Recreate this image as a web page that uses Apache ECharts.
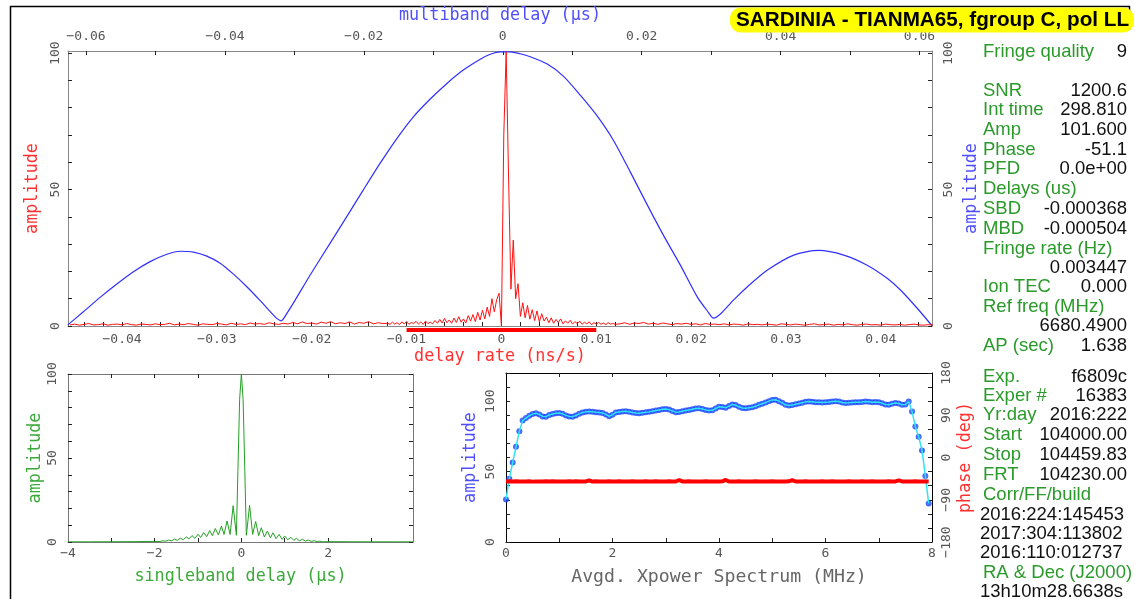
<!DOCTYPE html>
<html><head><meta charset="utf-8">
<script src="https://cdn.jsdelivr.net/npm/echarts@6/dist/echarts.min.js"></script>
<style>html,body{margin:0;padding:0;background:#fff;overflow:hidden}#c{width:1135px;height:599px}</style>
</head><body><div id="c"></div>
<script>
// ---------------- DATA ----------------
const titleText = 'SARDINIA - TIANMA65, fgroup C, pol LL';

// tick labels
const rateTickLabels = [-0.04,-0.03,-0.02,-0.01,0,0.01,0.02,0.03,0.04];
const mbdTickLabels = [-0.06,-0.04,-0.02,0,0.02,0.04,0.06];
const ampTickLabels = [0,50,100];
const sbdTickLabels = [-4,-2,0,2];
const freqTickLabels = [0,2,4,6,8];
const phaseTickLabels = [-180,-90,0,90,180];

// delay-rate amplitude (red), three sampled segments
const rateOuterLStart = -0.0455, rateOuterStep = 0.0005;
const rateOuterLAmp = [0.4,0.7,0.3,0.6,0.9,0.4,0.5,0.8,0.3,0.6,
 0.7,0.4,0.9,0.5,0.3,0.7,0.6,0.4,0.8,0.5,
 0.6,1.0,0.4,0.7,0.5,0.9,0.6,0.3,0.8,0.6,
 0.5,0.9,0.7,0.4,1.0,0.6,0.8,0.5,1.1,0.7,
 0.9,0.6,1.2,0.8,0.6,1.0,0.7,1.3,0.8,1.5,
 0.9,1.1,0.7,1.4,1.0,1.6,0.8,1.2,0.9,1.5,
 0.7,1.3,1.0,1.6,0.8,1.2,0.9];
const rateCenterStart = -0.012, rateCenterStep = 0.00025;
const rateCenterAmp = [1.0,0.6,1.4,0.7,1.2,0.5,1.5,0.8,1.6,0.6,
 1.3,0.9,1.7,0.7,1.5,0.6,1.8,0.9,1.4,0.8,
 2.0,1.0,2.4,1.1,2.8,1.2,2.2,1.0,2.9,1.3,
 3.4,1.4,2.6,1.1,3.8,1.8,4.2,1.6,5.0,2.2,
 5.8,2.6,6.9,3.5,10.0,5.2,9.6,12.0,0.0,70,
 100.5,55,13.5,31.5,10,15.5,3.5,8.5,3.0,7.5,
 2.5,6.0,2.0,5.5,1.5,4.5,1.8,3.2,1.2,3.0,
 1.0,2.4,1.3,2.6,0.8,1.9,1.0,2.1,0.7,1.6,
 0.9,1.8,0.6,1.4,0.8,1.5,0.5,1.2,0.7,1.3,
 0.6,1.1,0.5,1.2,0.7,0.9,0.6];
const rateOuterRStart = 0.0125;
const rateOuterRAmp = [0.8,1.2,0.6,1.1,0.9,1.3,0.7,1.0,0.6,1.1,
 0.8,0.5,0.9,0.7,1.0,0.6,0.8,0.4,0.9,0.6,
 0.7,0.5,0.8,0.4,0.7,0.6,0.3,0.8,0.5,0.6,
 0.4,0.7,0.5,0.3,0.8,0.6,0.4,0.7,0.5,0.3,
 0.6,0.8,0.4,0.5,0.7,0.3,0.6,0.4,0.8,0.5,
 0.3,0.6,0.7,0.4,0.5,0.3,0.7,0.5,0.4,0.6,
 0.3,0.5,0.7,0.4,0.3,0.5,0.4];
const rateWindow = [-0.01, 0.01];

// multiband delay amplitude (blue)
const mbdX = [-0.06263,-0.06039,-0.05798,-0.05557,-0.05318,-0.05078,-0.04837,-0.04646,-0.04454,-0.04261,
 -0.04069,-0.03878,-0.03685,-0.03493,-0.03302,-0.03249,-0.03191,-0.03104,-0.02989,-0.02773,
 -0.02485,-0.02197,-0.02010,-0.01765,-0.01520,-0.01290,-0.01044,-0.00800,-0.00569,-0.00324,
 -0.00180,-0.00036,0.00108,0.00252,0.00396,0.00641,0.00872,0.01116,0.01361,0.01592,
 0.01837,0.02082,0.02312,0.02557,0.02802,0.02946,0.03033,0.03134,0.03321,0.03523,
 0.03811,0.04189,0.04549,0.04909,0.05246,0.05534,0.05726,0.05967,0.06183];
const mbdAmp = [0.4,5.2,10.5,15.4,19.9,23.6,26.3,27.4,27.1,25.6,
 23.0,19.0,14.4,9.3,4.0,2.7,1.9,4.8,9.5,18.7,
 30.4,42.1,49.8,59.7,68.9,76.6,83.2,89.0,93.8,97.8,
 99.6,100.5,100.5,99.8,98.7,96.0,91.6,84.6,76.9,68.1,
 56.4,44.3,33.3,22.3,10.6,5.5,2.9,4.4,9.5,14.4,
 20.5,26.0,27.7,26.0,22.3,17.5,13.2,6.5,0.0];

// singleband delay amplitude (green)
const sbdX = [-4,-3.5,-3,-2.5,-2.2,-2.0,-1.88,-1.81,-1.75,-1.68,-1.61,-1.54,-1.48,-1.41,-1.34,-1.27,-1.21,-1.14,-1.07,-1.0,
 -0.94,-0.87,-0.8,-0.73,-0.67,-0.6,-0.53,-0.46,-0.4,-0.33,-0.26,-0.19,-0.115,-0.08,-0.04,0,0.04,0.08,0.115,0.19,
 0.26,0.33,0.4,0.46,0.53,0.6,0.67,0.73,0.8,0.87,0.94,1.0,1.07,1.14,1.21,1.27,1.34,1.41,1.48,1.54,
 1.61,1.68,1.75,1.81,1.88,2.0,2.5,3.0,3.5,3.96];
const sbdAmp = [0.1,0.1,0.15,0.2,0.3,0.35,0.3,0.7,0.5,1.1,0.7,1.7,1.0,2.3,1.4,3.0,1.8,3.8,2.2,4.6,
 2.7,5.6,3.2,6.8,3.8,8.0,4.2,9.5,4.5,12.5,4.5,21.6,4.0,42,85,100,85,42,4.0,21.8,
 4.5,12.2,3.8,8.5,3.0,6.5,2.5,5.5,2.0,4.5,1.6,3.6,1.3,2.8,1.0,2.2,0.7,1.6,0.5,1.2,
 0.35,0.8,0.2,0.5,0.1,0.2,0.15,0.1,0.1,0.1];

// cross-power spectrum, 128 channels
const freqStart = 0, freqStep = 0.0625;
const xpAmp = [30.2,45,56.4,67.6,78.6,86.2,88.0,89.7,90.8,91.4,
 90.6,89.2,89.0,90.2,90.9,91.4,91.6,91.0,89.9,89.2,
 89.0,89.8,91.0,92.0,92.4,92.6,92.5,92.2,92.0,91.6,
 90.6,89.3,90.4,92.0,92.3,92.6,92.8,92.5,92.0,91.6,
 91.5,91.8,92.1,92.4,92.9,93.4,93.8,94.2,94.5,94.0,
 93.0,92.2,92.3,92.8,93.3,93.8,94.3,94.8,95.0,94.5,
 93.8,93.3,93.5,94.8,96.0,95.8,95.4,96.5,97.6,97.2,
 96.0,95.2,95.0,95.3,95.7,96.4,97.4,98.2,99.0,100.0,
 100.9,101.0,100.0,98.8,97.4,96.9,97.2,97.8,98.3,98.9,
 99.5,99.7,99.5,99.3,99.2,99.0,99.2,99.4,99.7,100.0,
 99.8,99.1,98.7,98.8,99.1,99.3,99.2,99.4,99.7,99.6,
 99.3,99.4,99.2,98.6,97.6,97.5,98.2,98.7,98.3,97.5,
 97.6,99.7,92.6,82.0,74.7,65.0,46.9,27.4];
const xpPhase = [-51.0,-50.6,-51.3,-50.8,-51.2,-50.9,-51.1,-50.7,-51.4,-50.9,
 -51.0,-51.2,-50.8,-51.1,-50.6,-51.3,-50.9,-51.0,-51.2,-50.7,
 -51.1,-50.8,-51.3,-50.9,-51.0,-48.5,-51.2,-50.8,-51.1,-50.9,
 -51.3,-50.7,-51.0,-51.2,-50.8,-51.1,-50.9,-51.0,-50.6,-51.3,
 -50.9,-51.1,-50.8,-51.2,-51.0,-50.7,-51.1,-50.9,-51.3,-50.8,
 -51.0,-51.2,-48.0,-50.9,-51.1,-50.7,-51.2,-50.9,-51.0,-51.3,
 -50.8,-51.1,-50.9,-51.0,-51.2,-50.7,-47.8,-51.1,-50.9,-51.3,
 -50.8,-51.0,-51.2,-50.9,-51.1,-50.6,-51.3,-50.9,-51.0,-51.2,
 -50.8,-51.1,-50.9,-51.0,-51.3,-50.7,-48.3,-51.1,-50.9,-51.2,
 -50.8,-51.0,-51.1,-50.9,-51.3,-50.7,-51.0,-51.2,-50.8,-51.1,
 -50.9,-51.0,-51.2,-50.8,-51.1,-50.9,-51.3,-50.7,-51.0,-51.2,
 -50.8,-51.1,-50.9,-51.0,-51.2,-50.8,-51.1,-50.9,-48.6,-51.0,
 -51.2,-50.9,-51.1,-50.8,-51.0,-51.3,-50.9,-51.1];

// info panel
const infoLabels = ['Fringe quality','SNR','Int time','Amp','Phase','PFD','Delays (us)','SBD','MBD','Fringe rate (Hz)','','Ion TEC','Ref freq (MHz)','','AP (sec)','Exp.','Exper #','Yr:day','Start','Stop','FRT','Corr/FF/build','','','','RA & Dec (J2000)',''];
const infoValues = ['9','1200.6','298.810','101.600','-51.1','0.0e+00','','-0.000368','-0.000504','','0.003447','0.000','','6680.4900','1.638','f6809c','16383','2016:222','104000.00','104459.83','104230.00','','2016:224:145453','2017:304:113802','2016:110:012737','','13h10m28.6638s'];

// ---------------- LAYOUT / STYLE ----------------
const infoRowY = [51.7,90.7,110,130.3,150,169.3,189.3,209.3,228.5,249,267.5,287.3,306.7,326,346,377,395.5,415.3,435.2,455,474.8,494.7,514.5,534,553.2,572.7,591.8];
const infoLeftValueRows = [22,23,24,26];
const PG = 'DejaVu Sans Mono';
const AR = 'Liberation Sans, Arial, sans-serif';
const RED = '#ff3030', BLUE = '#4f4fff', GREEN = '#3aaa3a';

function steps(a,b,st){const o=[];const n=Math.round((b-a)/st);for(let i=0;i<=n;i++)o.push(Math.round((a+i*st)*1e6)/1e6);return o;}
function fmt(v){return String(Math.round(v*1e6)/1e6).replace('-','\u2212');}
function seg(start, step, arr){return arr.map((v,i)=>[Math.round((start+i*step)*1e6)/1e6, v]);}
function pairs(xs, ys){return xs.map((x,i)=>[x, ys[i]]);}

const redData = seg(rateOuterLStart, rateOuterStep, rateOuterLAmp)
  .concat(seg(rateCenterStart, rateCenterStep, rateCenterAmp))
  .concat(seg(rateOuterRStart, rateOuterStep, rateOuterRAmp));
const blueData = pairs(mbdX, mbdAmp);
const greenData = pairs(sbdX, sbdAmp);
const xpAmpData = seg(freqStart, freqStep, xpAmp);
const xpPhaseData = seg(freqStart, freqStep, xpPhase);

const lbl = (extra)=>Object.assign({color:'#555', fontFamily:PG, fontSize:13, formatter:fmt}, extra);
function xAx(o){
  return Object.assign({type:'value', splitLine:{show:false}, axisLine:{show:true,onZero:false,lineStyle:{color:o.lc||'#888',width:1}},
    axisTick:{show:true,inside:true,length:4,customValues:o.ticks,lineStyle:{color:o.tc||'#222'}},
    axisLabel:o.labels?lbl({customValues:o.labels, margin:o.margin}):{show:false}}, o.base);
}

const grids = [
  {left:68, top:51, width:864, height:275},
  {left:68, top:328, width:864, height:4},
  {left:68, top:374, width:345, height:168},
  {left:506, top:373, width:426, height:169}
];

const option = {
  animation:false,
  backgroundColor:'#fff',
  title:{text:titleText, left:730, top:8, backgroundColor:'#ffff00', borderRadius:11, padding:[2,5,2,6],
    textStyle:{fontFamily:AR, fontWeight:'bold', fontSize:20.7, color:'#000', lineHeight:20}},
  grid:grids,
  xAxis:[
    xAx({ticks:steps(-0.044,0.044,0.002), labels:rateTickLabels, margin:7,
      base:{gridIndex:0, position:'bottom', min:-0.0457, max:0.0454,
        name:'delay rate (ns/s)', nameLocation:'middle', nameGap:22,
        nameTextStyle:{color:RED, fontFamily:PG, fontSize:16.8}}}),
    xAx({ticks:steps(-0.06,0.06,0.01), labels:mbdTickLabels, margin:8,
      base:{gridIndex:0, position:'top', min:-0.0626, max:0.0618,
        name:'multiband delay (\u03bcs)', nameLocation:'middle', nameGap:27,
        nameTextStyle:{color:BLUE, fontFamily:PG, fontSize:16.8}}}),
    {gridIndex:1, type:'value', min:-0.0457, max:0.0454, show:false},
    xAx({ticks:steps(-3,3,1), labels:sbdTickLabels, margin:5, lc:'#777',
      base:{gridIndex:2, position:'bottom', min:-4, max:3.96,
        name:'singleband delay (\u03bcs)', nameLocation:'middle', nameGap:26,
        nameTextStyle:{color:GREEN, fontFamily:PG, fontSize:16.8}}}),
    xAx({ticks:steps(-3,3,1), lc:'#777', base:{gridIndex:2, position:'top', min:-4, max:3.96}}),
    xAx({ticks:steps(1,7,1), labels:freqTickLabels, margin:5, lc:'#000',
      base:{gridIndex:3, position:'bottom', min:0, max:8,
        name:'Avgd. Xpower Spectrum (MHz)', nameLocation:'middle', nameGap:26,
        nameTextStyle:{color:'#666', fontFamily:PG, fontSize:18.2}}}),
    xAx({ticks:steps(1,7,1), lc:'#000', base:{gridIndex:3, position:'top', min:0, max:8}})
  ],
  yAxis:[
    xAx({ticks:steps(0,100,10), labels:ampTickLabels, margin:6,
      base:{gridIndex:0, position:'left', min:0, max:100.8,
        axisLabel:lbl({customValues:ampTickLabels, margin:6, rotate:90}),
        name:'amplitude', nameLocation:'middle', nameGap:27, nameRotate:90,
        nameTextStyle:{color:RED, fontFamily:PG, fontSize:16.8}}}),
    xAx({ticks:steps(0,100,10), labels:ampTickLabels,
      base:{gridIndex:0, position:'right', min:0, max:100.8,
        axisLabel:lbl({customValues:ampTickLabels, margin:10, rotate:90}),
        name:'amplitude', nameLocation:'middle', nameGap:30, nameRotate:90,
        nameTextStyle:{color:BLUE, fontFamily:PG, fontSize:16.8}}}),
    {gridIndex:1, type:'value', min:0, max:1, show:false},
    xAx({ticks:steps(0,100,10), lc:'#777',
      base:{gridIndex:2, position:'left', min:0, max:100,
        axisLabel:lbl({customValues:ampTickLabels, margin:9, rotate:90}),
        name:'amplitude', nameLocation:'middle', nameGap:24, nameRotate:90,
        nameTextStyle:{color:GREEN, fontFamily:PG, fontSize:16.8}}}),
    xAx({ticks:steps(0,100,10), lc:'#777', base:{gridIndex:2, position:'right', min:0, max:100}}),
    xAx({ticks:steps(0,120,10), lc:'#000',
      base:{gridIndex:3, position:'left', min:0, max:120,
        axisLabel:lbl({customValues:ampTickLabels, margin:9, rotate:90}),
        name:'amplitude', nameLocation:'middle', nameGap:27, nameRotate:90,
        nameTextStyle:{color:BLUE, fontFamily:PG, fontSize:16.8}}}),
    xAx({ticks:steps(-180,180,30), lc:'#000',
      base:{gridIndex:3, position:'right', min:-180, max:180,
        axisLabel:lbl({customValues:phaseTickLabels, margin:8, rotate:90}),
        name:'phase (deg)', nameLocation:'middle', nameGap:25, nameRotate:90,
        nameTextStyle:{color:RED, fontFamily:PG, fontSize:16.8}}})
  ],
  series:[
    {type:'line', xAxisIndex:1, yAxisIndex:1, data:blueData, smooth:0.25, showSymbol:false,
      lineStyle:{color:'#2f2fff', width:1.2}},
    {type:'line', xAxisIndex:0, yAxisIndex:0, data:redData, showSymbol:false,
      lineStyle:{color:'#ff1010', width:1}},
    {type:'line', xAxisIndex:2, yAxisIndex:2, data:rateWindow.map(x=>[x,0.5]), showSymbol:false,
      lineStyle:{color:'#ff0000', width:4}},
    {type:'line', xAxisIndex:3, yAxisIndex:3, data:greenData, showSymbol:false,
      lineStyle:{color:'#22a022', width:1}},
    {type:'scatter', xAxisIndex:5, yAxisIndex:5, data:xpAmpData, symbolSize:6,
      itemStyle:{color:'#1a45ff'}},
    {type:'line', xAxisIndex:5, yAxisIndex:5, data:xpAmpData, showSymbol:false,
      lineStyle:{color:'#30e4f4', width:1.5}},
    {type:'line', xAxisIndex:5, yAxisIndex:6, data:xpPhaseData, showSymbol:false,
      lineStyle:{color:'#ff0000', width:4}}
  ],
  graphic:[]
};

// frame
option.graphic.push({type:'line', shape:{x1:10, y1:6.5, x2:1130, y2:6.5}, style:{stroke:'#000', lineWidth:1.5}});
option.graphic.push({type:'line', shape:{x1:10.5, y1:6, x2:10.5, y2:599}, style:{stroke:'#000', lineWidth:1.5}});
option.graphic.push({type:'line', shape:{x1:1129.5, y1:6, x2:1129.5, y2:30}, style:{stroke:'#000', lineWidth:1.5}});

// info panel text
infoLabels.forEach((t,i)=>{
  const y = infoRowY[i];
  if (t) option.graphic.push({type:'text', x:983, y:y, style:{text:t, fill:'#2a9a2a', font:'18.5px '+AR, textAlign:'left', textVerticalAlign:'middle', verticalAlign:'middle'}});
  const v = infoValues[i];
  if (v) {
    const left = infoLeftValueRows.indexOf(i) >= 0;
    option.graphic.push({type:'text', x:left?980:1127, y:y, style:{text:v, fill:'#111', font:'18.5px '+AR, textAlign:left?'left':'right', textVerticalAlign:'middle', verticalAlign:'middle'}});
  }
});

const chart = echarts.init(document.getElementById('c'), null, {renderer:'canvas'});
chart.setOption(option);
</script></body></html>
